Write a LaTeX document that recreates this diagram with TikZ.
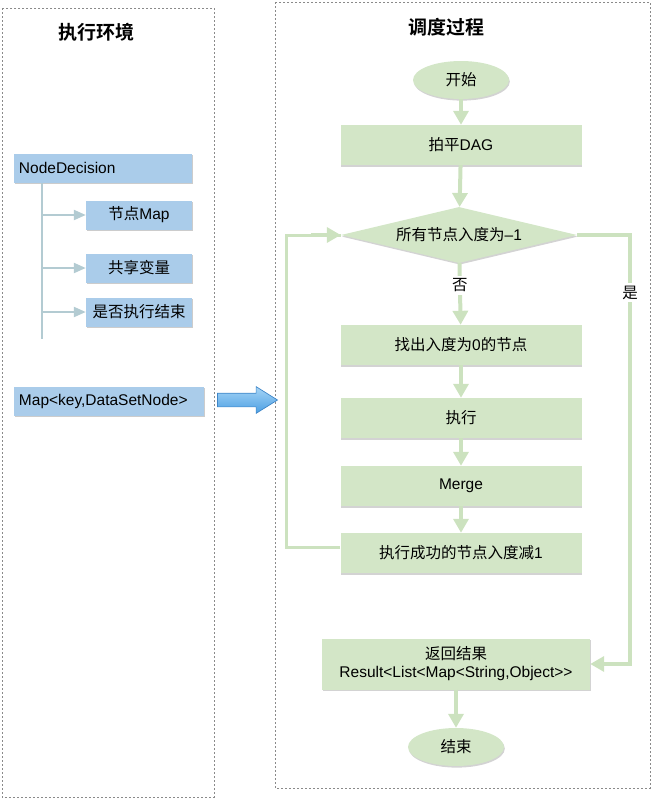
\documentclass[tikz,border=0pt]{standalone}
\usepackage{fontspec}
\setmainfont{Liberation Sans}
\newfontfamily\cjk{Noto Sans CJK SC}[BoldFont={Noto Sans CJK SC Bold}]
\usepackage{xcolor}
\usepackage{tikz}
\usetikzlibrary{arrows.meta,positioning,shapes.geometric,shapes.arrows,shadows}

\definecolor{boxgreen}{HTML}{D3E6C7}
\definecolor{linegreen}{HTML}{CCE2BF}
\definecolor{boxblue}{HTML}{AACCEA}
\definecolor{treeline}{HTML}{B3CBD2}
\definecolor{framegray}{HTML}{8A8A8A}
\definecolor{arrowtop}{HTML}{A6D5F6}
\definecolor{arrowbottom}{HTML}{4C9FE3}
\definecolor{arrowedge}{HTML}{3F86C8}

\begin{document}
\begin{tikzpicture}[
  x=1pt, y=-1pt,
  every node/.style={font=\fontsize{15.5}{18}\selectfont},
  frame/.style={draw=framegray, line width=1pt, dash pattern=on 2pt off 2pt},
  title/.style={font=\fontsize{19}{22}\selectfont\cjk\bfseries},
  envbox/.style={fill=boxblue, minimum height=29pt, inner sep=5pt,
    drop shadow={shadow xshift=0.8pt, shadow yshift=-1.6pt, opacity=0.4}},
  stepbox/.style={fill=boxgreen, minimum width=241pt, minimum height=40pt, align=center,
    drop shadow={shadow xshift=0.8pt, shadow yshift=-1.8pt, opacity=0.35}},
  term/.style={ellipse, fill=boxgreen, minimum width=96pt, minimum height=38pt, inner sep=0pt,
    drop shadow={shadow xshift=0.8pt, shadow yshift=-1.6pt, opacity=0.35}},
  cond/.style={diamond, aspect=4.2, fill=boxgreen, minimum width=236pt, minimum height=56pt, inner sep=0pt,
    drop shadow={shadow xshift=0.8pt, shadow yshift=-1.6pt, opacity=0.35}},
  flow/.style={draw=linegreen, line width=4pt, -{Triangle[length=14pt, width=15pt]}},
  loopline/.style={draw=linegreen, line width=3pt},
  tree/.style={draw=treeline, line width=2.2pt},
  treearrow/.style={tree, -{Triangle[length=12pt, width=10pt]}},
  lab/.style={font=\fontsize{15.5}{18}\selectfont\cjk}
]
\useasboundingbox (0,0) rectangle (653,798);
% two frames
\draw[frame] (2,8) rectangle (214,797);
\draw[frame] (275,2) rectangle (650,788);
\node[title] (envtitle) at (96,32) {执行环境};
\node[title] (schedtitle) at (446,27) {调度过程};

% left side: execution environment
\node[envbox, text width=168pt, align=left] (decision) at (103,168) {NodeDecision};
\node[envbox, minimum width=106pt] (nodemap) at (139,215) {{\cjk 节点}Map};
\node[envbox, minimum width=106pt] (shared) at (139,268) {\cjk 共享变量};
\node[envbox, minimum width=106pt] (finished) at (139,312) {\cjk 是否执行结束};
\node[envbox, text width=180pt, align=left] (dsmap) at (109,401) {Map<key,DataSetNode>};
\coordinate (trunkend) at (42,339);
\draw[tree] (decision.south -| trunkend) -- (trunkend);
\draw[treearrow] (nodemap.west -| trunkend) -- (nodemap.west);
\draw[treearrow] (shared.west -| trunkend) -- (shared.west);
\draw[treearrow] (finished.west -| trunkend) -- (finished.west);
\node[single arrow, draw=arrowedge, line width=0.7pt,
  top color=arrowtop, bottom color=arrowbottom,
  inner xsep=0pt, inner ysep=6.5pt, outer sep=0pt, minimum height=60pt,
  single arrow head extend=6.5pt, single arrow tip angle=64] (bigarrow) at (242,400) {};

% right side: scheduling
\node[term] (start) at (461,80) {\cjk 开始};
\node[stepbox] (flatten) at (461,145) {{\cjk 拍平}DAG};
\node[cond] (alldone) at (459,235) {{\cjk 所有节点入度为}–1};
\node[stepbox] (findzero) at (461,345) {{\cjk 找出入度为}0{\cjk 的节点}};
\node[stepbox] (run) at (461,418) {\cjk 执行};
\node[stepbox] (merge) at (461,486) {Merge};
\node[stepbox] (decrease) at (461,553) {{\cjk 执行成功的节点入度减}1};
\node[stepbox, minimum width=268pt, minimum height=51pt] (result) at (456,664)
  {{\cjk 返回结果}\\Result<List<Map<String,Object>{}>};
\node[term] (finish) at (456,747) {\cjk 结束};

\draw[flow] (start) -- (flatten);
\draw[flow] (flatten) -- (alldone);
\draw[flow] (alldone) -- node[lab, fill=white, inner sep=3pt, pos=0.36] (nolab) {否} (findzero);
\draw[flow] (findzero) -- (run);
\draw[flow] (run) -- (merge);
\draw[flow] (merge) -- (decrease);
\draw[loopline] ([yshift=6pt]decrease.west) -- ++(-54,0) coordinate (loopcorner) |- (alldone.west);
\draw[flow] ([xshift=-30pt]alldone.west) -- (alldone.west);
\draw[flow] (alldone.east) -- ++(53,0) coordinate (yescorner) |- (result.east)
  node[lab, pos=0.067, fill=white, inner sep=3pt] (yeslab) {是};
\draw[flow] (result) -- (finish);
\end{tikzpicture}
\end{document}
